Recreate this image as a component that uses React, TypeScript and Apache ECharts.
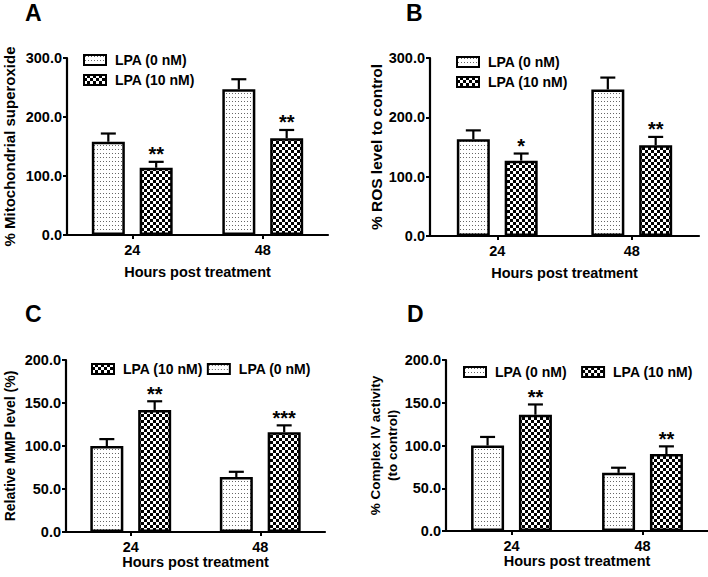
import React, { useEffect, useRef } from 'react';
import * as echarts from 'echarts';

const categories = ['24', '48'];
const nameControl = 'LPA (0 nM)';
const nameTreated = 'LPA (10 nM)';

// Panel A
const aControl = [158, 247];
const aControlErr = [14, 17];
const aTreated = [114, 164];
const aTreatedErr = [10, 14];
const aStars = ['**', '**'];

// Panel B
const bControl = [163, 247];
const bControlErr = [15, 20];
const bTreated = [127, 153];
const bTreatedErr = [12, 14];
const bStars = ['*', '**'];

// Panel C
const cControl = [100, 64];
const cControlErr = [8, 6];
const cTreated = [142, 116];
const cTreatedErr = [10, 8];
const cStars = ['**', '***'];

// Panel D
const dControl = [100, 68];
const dControlErr = [10, 6];
const dTreated = [136, 90];
const dTreatedErr = [12, 9];
const dStars = ['**', '**'];

const FONT = 'Liberation Sans, Arial, sans-serif';

function makeDots(): HTMLCanvasElement {
  const c = document.createElement('canvas');
  c.width = 3;
  c.height = 4;
  const ctx = c.getContext('2d')!;
  ctx.fillStyle = '#ffffff';
  ctx.fillRect(0, 0, 3, 4);
  ctx.fillStyle = '#666666';
  ctx.fillRect(1, 1, 1, 1);
  return c;
}

function makeChecker(): HTMLCanvasElement {
  const c = document.createElement('canvas');
  c.width = 6;
  c.height = 6;
  const ctx = c.getContext('2d')!;
  ctx.fillStyle = '#000000';
  ctx.fillRect(0, 0, 6, 6);
  ctx.fillStyle = '#ffffff';
  ctx.fillRect(0, 0, 3, 3);
  ctx.fillRect(3, 3, 3, 3);
  return c;
}

export default function App() {
  const ref = useRef<HTMLDivElement>(null);

  useEffect(() => {
    if (!ref.current) return;
    const chart = echarts.init(ref.current, null, { renderer: 'svg' });
    const dots = { image: makeDots(), repeat: 'repeat' };
    const checker = { image: makeChecker(), repeat: 'repeat' };

    const BAR_W = 33;
    const GAP = 0.45;
    const OFFSET = (BAR_W + GAP * BAR_W) / 2;

    const panels = [
      {
        letter: 'A', lx: 25, ly: 13,
        grid: { left: 60, top: 58, width: 268, height: 177 },
        max: 300, interval: 100, yName: '% Mitochondrial superoxide', yGap: 49, yFont: 15, xGap: 29,
        control: aControl, controlErr: aControlErr, treated: aTreated, treatedErr: aTreatedErr, stars: aStars,
        legend: { orient: 'vertical', left: 83, top: 53, itemGap: 6, order: [nameControl, nameTreated] },
      },
      {
        letter: 'B', lx: 406, ly: 13,
        grid: { left: 430, top: 58, width: 269, height: 178 },
        max: 300, interval: 100, yName: '% ROS level to control', yGap: 41, yFont: 15.5, xGap: 29,
        control: bControl, controlErr: bControlErr, treated: bTreated, treatedErr: bTreatedErr, stars: bStars,
        legend: { orient: 'vertical', left: 456, top: 55, itemGap: 6, order: [nameControl, nameTreated] },
      },
      {
        letter: 'C', lx: 25, ly: 314,
        grid: { left: 62, top: 360, width: 263, height: 172 },
        max: 200, interval: 50, yName: 'Relative MMP level (%)', yGap: 48, yFont: 14, xGap: 21,
        control: cControl, controlErr: cControlErr, treated: cTreated, treatedErr: cTreatedErr, stars: cStars,
        legend: { orient: 'horizontal', left: 91, top: 362, itemGap: 4, order: [nameTreated, nameControl] },
      },
      {
        letter: 'D', lx: 407, ly: 314,
        grid: { left: 446, top: 360, width: 262, height: 171 },
        max: 200, interval: 50, yName: '% Complex IV activity\n(to control)', yGap: 43, yFont: 13.5, xGap: 22,
        control: dControl, controlErr: dControlErr, treated: dTreated, treatedErr: dTreatedErr, stars: dStars,
        legend: { orient: 'horizontal', left: 463, top: 365, itemGap: 14, order: [nameControl, nameTreated] },
      },
    ];

    const grids: any[] = [];
    const xAxes: any[] = [];
    const yAxes: any[] = [];
    const legends: any[] = [];
    const series: any[] = [];
    const graphics: any[] = [];

    const boldText = { fontFamily: FONT, fontWeight: 'bold', fontSize: 14, color: '#000' };

    panels.forEach((p, i) => {
      grids.push({ ...p.grid, containLabel: false });
      xAxes.push({
        type: 'category',
        gridIndex: i,
        data: categories,
        name: 'Hours post treatment',
        nameLocation: 'middle',
        nameGap: p.xGap,
        nameTextStyle: { ...boldText, fontSize: 14.5 },
        axisLine: { show: true, lineStyle: { color: '#000', width: 2.2 } },
        axisTick: { show: true, alignWithLabel: true, length: 4, lineStyle: { color: '#000', width: 2 } },
        axisLabel: { ...boldText, fontSize: 14.5, margin: 7 },
        splitLine: { show: false },
      });
      yAxes.push({
        type: 'value',
        gridIndex: i,
        min: 0,
        max: p.max,
        interval: p.interval,
        name: p.yName,
        nameLocation: 'middle',
        nameGap: p.yGap,
        nameTextStyle: { ...boldText, fontSize: p.yFont, lineHeight: 17 },
        axisLine: { show: true, lineStyle: { color: '#000', width: 2.2 } },
        axisTick: { show: true, length: 4, lineStyle: { color: '#000', width: 2 } },
        axisLabel: { ...boldText, fontSize: 14.5, margin: 5, formatter: (v: number) => v.toFixed(1) },
        splitLine: { show: false },
      });
      legends.push({
        orient: p.legend.orient,
        left: p.legend.left,
        top: p.legend.top,
        padding: 0,
        itemGap: p.legend.itemGap,
        itemWidth: 22,
        itemHeight: 10,
        icon: 'rect',
        selectedMode: false,
        data: p.legend.order,
        textStyle: { ...boldText, fontSize: 14, padding: [0, 0, 0, 4] },
        itemStyle: { borderColor: '#000', borderWidth: 2 },
      });
      series.push({
        type: 'bar',
        name: nameControl,
        xAxisIndex: i,
        yAxisIndex: i,
        data: p.control,
        barWidth: BAR_W,
        barGap: GAP * 100 + '%',
        itemStyle: { color: dots, borderColor: '#000', borderWidth: 2.5 },
      });
      series.push({
        type: 'bar',
        name: nameTreated,
        xAxisIndex: i,
        yAxisIndex: i,
        data: p.treated,
        barWidth: BAR_W,
        barGap: GAP * 100 + '%',
        itemStyle: { color: checker, borderColor: '#000', borderWidth: 2.5 },
      });
      const mkErr = (vals: number[], errs: number[], side: number, stars: string[] | null, tag: string) => ({
        type: 'custom',
        name: 'err-' + tag + '-' + i,
        xAxisIndex: i,
        yAxisIndex: i,
        z: 3,
        data: vals.map((v, k) => [k, v, v + errs[k]]),
        renderItem: (params: any, api: any) => {
          const k = params.dataIndex;
          const cat = api.value(0);
          const base = api.coord([cat, api.value(1)]);
          const top = api.coord([cat, api.value(2)]);
          const x = base[0] + side * OFFSET;
          const children: any[] = [
            { type: 'line', shape: { x1: x, y1: base[1], x2: x, y2: top[1] }, style: { stroke: '#000', lineWidth: 2.2 } },
            { type: 'line', shape: { x1: x - 7.5, y1: top[1], x2: x + 7.5, y2: top[1] }, style: { stroke: '#000', lineWidth: 2.2 } },
          ];
          if (stars && stars[k]) {
            children.push({
              type: 'text',
              x: x,
              y: top[1] - 7.5,
              style: {
                text: stars[k],
                fontSize: 20,
                fontWeight: 'bold',
                fontFamily: FONT,
                fill: '#000',
                align: 'center',
                verticalAlign: 'middle',
              },
            });
          }
          return { type: 'group', children };
        },
      });
      series.push(mkErr(p.control, p.controlErr, -1, null, 'c'));
      series.push(mkErr(p.treated, p.treatedErr, 1, p.stars, 't'));
      graphics.push({
        type: 'text',
        x: p.lx,
        y: p.ly,
        style: {
          text: p.letter,
          fontSize: 23,
          fontWeight: 'bold',
          fontFamily: FONT,
          fill: '#000',
          verticalAlign: 'middle',
        },
      });
    });

    chart.setOption({
      animation: false,
      backgroundColor: '#fff',
      grid: grids,
      xAxis: xAxes,
      yAxis: yAxes,
      legend: legends,
      series,
      graphic: graphics,
    });

    return () => chart.dispose();
  }, []);

  return (
    <div
      ref={ref}
      style={{ position: 'fixed', left: 0, top: 0, width: 708, height: 577, background: '#fff' }}
    />
  );
}
